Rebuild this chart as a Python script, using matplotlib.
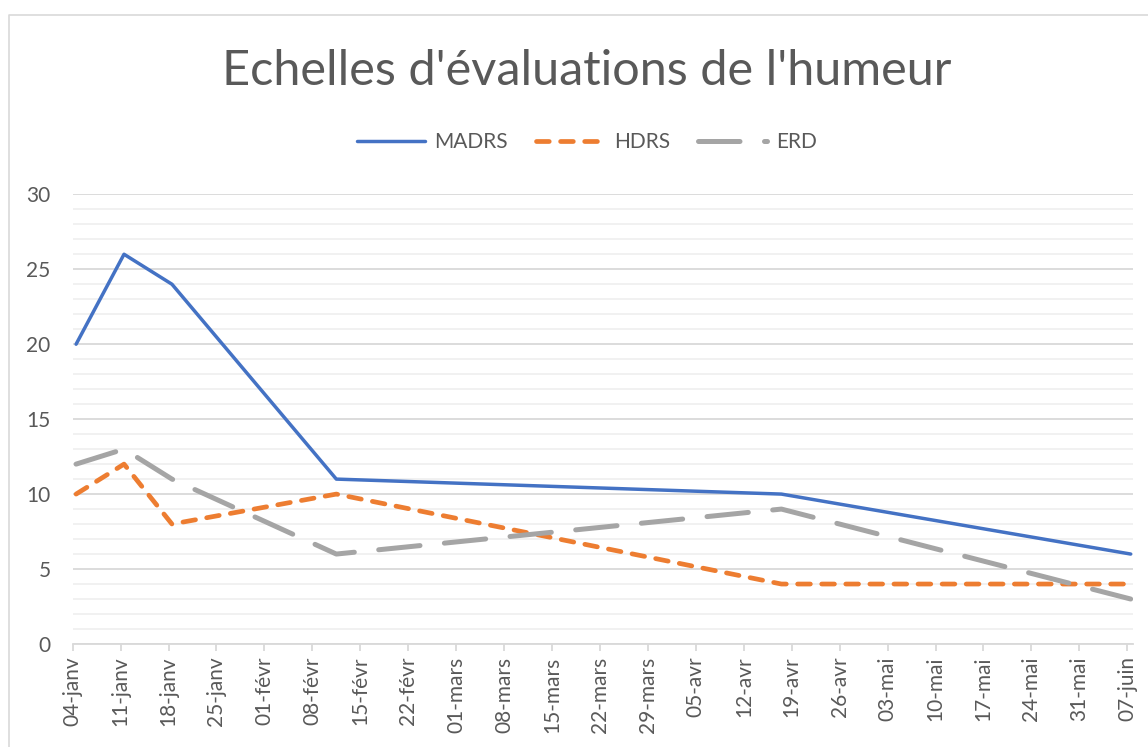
import numpy as np
import pandas as pd
import matplotlib
matplotlib.use('Agg')
import matplotlib.pyplot as plt
import matplotlib.dates as mdates
from matplotlib.lines import Line2D

#Data
dates = ['2021-01-04', '2021-01-11', '2021-01-18', '2021-02-11', '2021-04-17', '2021-06-07']
madrs = [20, 26, 24, 11, 10, 6]
hdrs = [10, 12, 8, 10, 4, 4]
erd = [12, 13, 11, 6, 9, 3]
mois = ['janv', 'févr', 'mars', 'avr', 'mai', 'juin']
title = "Echelles d'évaluations de l'humeur"

#Init
plt.rcParams['font.family'] = ['Lato', 'DejaVu Sans']
txt = '#595959'
grid_major = '#d9d9d9'
grid_minor = '#f0f0f0'

fig = plt.figure(figsize=(11.48, 7.47), dpi=100)
ax = fig.add_axes([0.0633, 0.1379, 0.9234, 0.6020])

#Points sit in the middle of their day (Excel date axis)
x = mdates.date2num(pd.to_datetime(dates)) + 0.5

ax.plot(x, madrs, color='#4472C4', lw=2.5, solid_capstyle='round', solid_joinstyle='round', label='MADRS')
ax.plot(x, hdrs, color='#ED7D31', lw=3.4, dashes=(2.7, 2.4), dash_capstyle='round', dash_joinstyle='round', label='HDRS')
ax.plot(x, erd, color='#A5A5A5', lw=3.6, dashes=(8.3, 4.9), dash_capstyle='round', dash_joinstyle='round', label='ERD')

#Axes
ticks = pd.date_range('2021-01-04', '2021-06-07', freq='7D')
ax.set_xticks(mdates.date2num(ticks))
ax.set_xticklabels(['%02d-%s' % (d.day, mois[d.month - 1]) for d in ticks], rotation=90)
ax.set_xlim(mdates.date2num(pd.Timestamp('2021-01-04')), mdates.date2num(pd.Timestamp('2021-06-08')) - 0.2)
ax.set_ylim(0, 30)
ax.set_yticks(np.arange(0, 31, 5))
ax.set_yticks(np.arange(0, 31, 1), minor=True)
ax.grid(axis='y', which='major', color=grid_major, lw=1.3)
ax.grid(axis='y', which='minor', color=grid_minor, lw=1.3)
ax.set_axisbelow(True)
for s in ['left', 'right', 'top']:
    ax.spines[s].set_visible(False)
ax.spines['bottom'].set_color(grid_major)
ax.spines['bottom'].set_linewidth(1.3)
ax.tick_params(axis='y', which='both', length=0, pad=16, labelsize=15, labelcolor=txt)
ax.tick_params(axis='x', length=5, width=1.3, color=grid_major, pad=4, labelsize=15, labelcolor=txt)

#Title and legend
fig.text(0.511, 0.905, title, ha='center', va='center', fontsize=35, color=txt)
fig.legend(loc='center', bbox_to_anchor=(0.511, 0.81), ncol=3, frameon=False, fontsize=15,
           handlelength=3.3, handletextpad=0.43, columnspacing=1.35, labelcolor=txt)

#Chart border
bx = 9 / 1148.0
by = 732 / 747.0
fig.add_artist(Line2D([bx, bx, 1.0], [0.0, by, by], color=grid_major, lw=1.2, transform=fig.transFigure))

plt.savefig('out.png', dpi=100)
